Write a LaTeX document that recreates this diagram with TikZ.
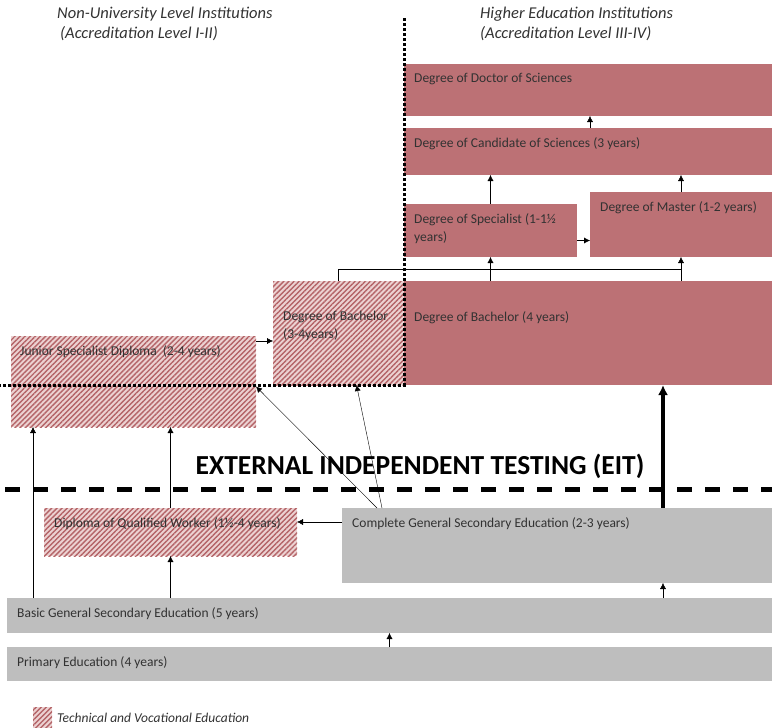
\documentclass[tikz,border=0pt]{standalone}
\usepackage{fontspec}
\setmainfont{Carlito}
\usetikzlibrary{arrows.meta,positioning,patterns.meta}

\definecolor{degred}{RGB}{188,113,117}
\definecolor{hatchred}{RGB}{180,100,104}
\definecolor{hatchbg}{RGB}{236,210,210}
\definecolor{schgray}{RGB}{190,190,190}
\definecolor{txtgray}{RGB}{50,50,50}

\begin{document}
\begin{tikzpicture}[x=1pt, y=-1pt,
  box/.style={anchor=north west, inner sep=0pt, outer sep=0pt, draw=none},
  hebox/.style={box, fill=degred},
  tvbox/.style={box, fill=hatchbg,
    postaction={pattern={Lines[angle=45, distance=3.6pt, line width=1.4pt]}, pattern color=hatchred}},
  genbox/.style={box, fill=schgray},
  lbl/.style={font=\fontsize{13.5}{18}\selectfont, text=txtgray, align=left,
    anchor=north west, inner xsep=10pt, inner ysep=9pt},
  head/.style={anchor=north west, align=left, text=txtgray, inner sep=0pt,
    font=\fontsize{16.5}{20}\selectfont\itshape},
  arr/.style={-{Latex[length=6pt, width=6pt]}, thin},
  bigarr/.style={-{Latex[length=10pt, width=10pt]}, line width=3.5pt},
  divline/.style={line width=3pt, dash pattern=on 3pt off 2pt},
  eitline/.style={line width=5pt, dash pattern=on 15pt off 13pt}
]
\useasboundingbox (0,0) rectangle (772,728);

% higher education
\node[hebox, minimum width=368pt, minimum height=52pt,
  label={[lbl]north west:Degree of Doctor of Sciences}] (doc) at (404,64) {};
\node[hebox, minimum width=368pt, minimum height=47pt,
  label={[lbl]north west:Degree of Candidate of Sciences (3 years)}] (cand) at (404,128) {};
\node[hebox, minimum width=173pt, minimum height=53pt,
  label={[lbl]north west:Degree of Specialist (1-1½\\years)}] (spec) at (404,204) {};
\node[hebox, minimum width=182pt, minimum height=65pt,
  label={[lbl]north west:Degree of Master (1-2 years)}] (mast) at (590,192) {};
\node[hebox, minimum width=368pt, minimum height=104pt,
  label={[lbl, inner ysep=30pt]north west:Degree of Bachelor (4 years)}] (bach4) at (404,281) {};

% non-university
\node[tvbox, minimum width=131pt, minimum height=104pt,
  label={[lbl, inner ysep=30pt]north west:Degree of Bachelor\\(3-4years)}] (bach3) at (273,281) {};
\node[tvbox, minimum width=245pt, minimum height=91pt,
  label={[lbl, inner xsep=9pt]north west:Junior Specialist Diploma\ \ (2-4 years)}] (jun) at (11,336) {};
\node[tvbox, minimum width=253pt, minimum height=48pt,
  label={[lbl]north west:Diploma of Qualified Worker (1½-4 years)}] (wrk) at (44,508) {};

% school
\node[genbox, minimum width=430pt, minimum height=75pt,
  label={[lbl]north west:Complete General Secondary Education (2-3 years)}] (cgse) at (342,508) {};
\node[genbox, minimum width=765pt, minimum height=35pt,
  label={[lbl]north west:Basic General Secondary Education (5 years)}] (basic) at (7,598) {};
\node[genbox, minimum width=765pt, minimum height=34pt,
  label={[lbl]north west:Primary Education (4 years)}] (prim) at (7,647) {};

% headings
\node[head] (nuhead) at (57,7) {Non-University Level Institutions\\\hspace{3pt}(Accreditation Level I-II)};
\node[head] (hehead) at (480,7) {Higher Education Institutions\\(Accreditation Level III-IV)};

% dividers
\draw[divline] (404,18) -- (404,385) -- (0,385);
\draw[eitline] (5,489) -- (772,489);

% arrows
\draw[arr] (cand.north -| mast.west) -- (doc.south -| mast.west);
\draw[arr] (spec.north) -- (spec.north |- cand.south);
\draw[arr] (mast.north) -- (mast.north |- cand.south);
\coordinate (sarr) at ([yshift=-10pt]spec.east);
\draw[arr] (sarr) -- (sarr -| mast.west);
\coordinate (brk) at (0,269);
\draw[thin] (bach3.north) |- (brk -| mast.north);
\draw[arr] (bach4.north -| spec.north) -- (spec.south);
\draw[arr] (bach4.north -| mast.north) -- (mast.south);
\coordinate (jarr) at ([yshift=-5pt]jun.north east);
\draw[arr] (jarr) -- (jarr -| bach3.west);
\draw[arr] ([xshift=35pt]cgse.north west) -- ([yshift=-5pt]jun.east);
\draw[arr] ([xshift=40pt]cgse.north west) -- ([xshift=18pt]bach3.south);
\coordinate (thk) at ([xshift=75pt]bach4.south);
\draw[bigarr] (cgse.north -| thk) -- (thk);
\coordinate (warr) at ([yshift=10pt]wrk.east);
\draw[arr] (warr -| cgse.west) -- (warr);
\coordinate (jleft) at ([xshift=22pt]jun.south west);
\draw[arr] (basic.north -| jleft) -- (jleft);
\draw[arr] (basic.north -| wrk.south) -- (wrk.south);
\draw[arr] (wrk.north) -- (wrk.north |- jun.south);
\draw[arr] (basic.north -| thk) -- (cgse.south -| thk);
\draw[arr] (prim.north) -- (basic.south);

% title
\node[font=\fontsize{27.5}{30}\selectfont\bfseries, inner sep=0pt] (eit) at (420,466) {EXTERNAL INDEPENDENT TESTING (EIT)};

% legend
\node[tvbox, minimum width=19pt, minimum height=21pt] (legsw) at (33,707) {};
\node[right=5pt of legsw, inner sep=0pt, text=txtgray, font=\fontsize{13.5}{15}\selectfont\itshape] (legtx) {Technical and Vocational Education};
\end{tikzpicture}
\end{document}
